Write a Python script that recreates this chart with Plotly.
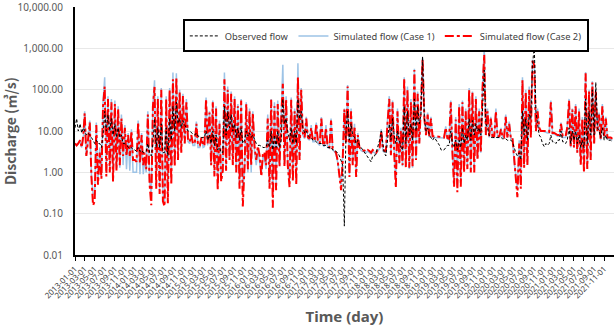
import datetime as dt
import plotly.graph_objects as go

years = list(range(2013, 2022))
days_in_month = [1, 11, 21]

case2_flow = [
    5,4.5,5, 6,4,8, 27,2.5,6, 16,0.8,0.16, 0.2,14,0.5, 3,0.7,40, 120,0.8,60, 1.0,50,0.6, 45,1.1,35, 1.5,20,2.5, 12,2.5,8, 2.5,10,2,
    2,1.8,16, 1.7,8,1.5, 3,1.2,25, 0.5,0.16,40, 117,0.4,60, 0.3,100,0.2, 0.15,60,0.18, 100,0.5,180, 1.4,200,2, 90,3,70, 5,50,6, 5.5,8,5,
    5,15,4.5, 4.5,7,4.5, 4.5,60,5, 28,1.5,50, 0.8,35,0.37, 15,0.6,1.1, 180,1.1,100, 2,80,1.5, 60,1.0,40, 0.4,55,0.15, 1.5,45,1.2, 30,1.5,27,
    4,2,4.3, 2.5,0.8,3, 3,1.5,20, 0.4,57,0.14, 40,0.37,45, 1.4,20,140, 1.4,60,1.5, 0.44,57,0.6, 30,0.5,200, 2,100,9, 7,20,7, 6.5,12,6,
    6,15,5.5, 5,20,5, 4.5,12,4.2, 4,18,3.8, 3.5,3,2, 0.8,0.37,2, 33,5,120, 0.77,30,1.5, 13,0.77,8, 4,3.5,3.4, 3.4,3.2,3.5, 3.3,3.0,3.5,
    3.2,3,3.5, 4,10,3.5, 3.4,3.2,15, 60,2.6,50, 3,0.42,30, 1.7,10,1.5, 190,1.3,100, 1.3,50,1.4, 300,2,80, 5,40,550, 20,8,25, 7.5,20,7.5,
    7.5,7.5,7.3, 7.4,7.2,7, 7,12,6.8, 6.5,50,3, 0.45,19,0.33, 40,0.45,50, 1,30,1.2, 100,1,85, 1.0,60,2, 30,3,100, 700,8,30, 7.5,20,7.5,
    7.5,30,7.5, 7.5,11,7.2, 7,22,7, 15,6.8,7, 2,0.8,0.25, 5,0.4,170, 1.3,90,1.5, 100,7,500, 400,10,30, 12,10,10, 10,10,9.5, 9.5,50,9,
    9,8.5,8, 8,15,7.5, 7.5,7.5,12, 55,4,33, 4,40,3, 30,1.5,20, 1.0,250,1.2, 90,2,150, 5,90,10, 25,6,40, 7.5,20,7, 7,7,6.5,
]

case1_flow = [
    5,4.5,5, 6,4,7, 30,2.5,5, 18,0.9,0.3, 0.3,16,0.6, 4,0.8,50, 200,1.0,70, 1.2,60,0.7, 55,1.2,40, 1.3,25,1.5, 14,1.2,9, 1.1,11,1.0,
    1.0,1.0,18, 0.9,9,0.9, 2,1.0,30, 0.6,0.3,45, 170,0.5,70, 0.4,110,0.3, 0.2,70,0.25, 110,0.7,260, 1.6,250,2.5, 100,3.5,80, 5,60,5.5, 5,8,4.5,
    4.5,17,4, 4,7,4, 4.2,65,4.5, 30,1.6,55, 1.0,40,0.5, 18,0.8,1.2, 260,1.3,120, 2.2,90,1.6, 70,1.1,45, 0.5,60,0.4, 1.2,50,1.0, 35,1.0,30,
    3,1.5,3.5, 1.8,0.9,2.5, 2,1.2,25, 0.5,60,0.3, 50,0.5,55, 1.5,25,400, 1.6,70,1.6, 0.6,65,0.8, 35,0.7,440, 2.5,110,8, 6.5,22,6.5, 6,14,5.5,
    5.5,16,5, 4.5,22,4.5, 4.2,14,4, 3.8,20,3.5, 3.2,2.8,1.8, 1.0,0.5,2.2, 35,5,130, 0.9,35,1.6, 15,0.9,9, 4,3.4,3.2, 3.2,3,3.3, 3.0,2.8,3.2,
    3,2.8,3.3, 3.8,11,3.3, 3.2,3,18, 70,2.8,55, 3.2,0.6,35, 1.6,12,1.4, 200,1.4,120, 1.2,60,1.3, 320,2.2,90, 5,45,600, 22,8,28, 7,22,7,
    7,7,7, 7,7,6.8, 6.8,13,6.5, 6,55,3, 0.6,22,0.5, 45,0.6,55, 1.2,35,1.4, 110,1.2,90, 1.2,70,2.2, 35,3,110, 1000,8,35, 7,22,7,
    7,35,7, 7,12,7, 6.8,25,6.8, 17,6.5,6.5, 1.8,0.9,0.4, 6,0.6,200, 1.4,100,1.6, 120,8,530, 450,11,35, 11,10,10, 9.5,9.5,9, 9,55,8.5,
    8.5,8,7.5, 7.5,16,7, 7,7,13, 60,4,35, 4,45,3, 35,1.6,22, 1.1,270,1.3, 100,2.2,160, 5,100,11, 28,6,45, 7,22,6.5, 6.5,6.5,6,
]

observed_flow = [
    12,20,10, 15,9,12, 10,8,9, 8,7,6, 5,6,5, 5,4,8, 30,10,25, 10,20,8, 15,7,12, 7,8,5, 5,4.5,4, 3.8,4,3.5,
    3.5,3.2,4, 3.2,3.5,3, 3,3.2,5, 3,2.5,5, 20,4,12, 4,15,3, 3,12,2.5, 20,6,40, 10,50,15, 20,12,18, 14,12,10, 10,9,8.5,
    8,9,7.5, 7.5,7,7, 7,10,6, 8,5,10, 4.5,8,3.5, 4,3,3, 40,8,30, 12,25,10, 15,7,12, 6,12,5, 6,10,7.5, 9,7,8,
    6,5,4.5, 4.5,4.3,4, 4,4,6, 4,10,3.5, 8,4,10, 4,6,60, 15,20,10, 6,12,5, 10,5,60, 20,30,12, 9,10,8, 7,7,6,
    6,5.5,5, 5,5,4.5, 4.5,4.5,4, 4,4,3.5, 3.5,3.2,3, 2.5,2,1.5, 0.05,10,30, 6,15,8, 7,5,6, 4.5,4,3.5, 3,2.5,2.2, 2,1.8,2.5,
    2.5,3,4, 6,10,5, 3,2.5,6, 15,6,20, 8,5,10, 6,4,3.5, 40,5,30, 8,15,6, 60,10,40, 15,25,630, 20,10,12, 8,7,6,
    7,6,5, 4.5,3.5,3.4, 3.5,4,4.5, 4.5,10,5, 4,6,3.5, 6,4,12, 5,8,6, 20,6,18, 8,15,10, 12,8,30, 300,15,12, 8,7,7,
    7,7,7, 7,7,6.5, 6.5,6.5,6, 6,6,5.5, 4,3,2.5, 3,2,30, 8,20,6, 25,20,400, 1100,30,15, 8,7,5, 4.2,5,4.5, 5,8,5.5,
    5.5,5,6, 6,10,5.5, 5.5,5,6, 12,5,10, 6,10,5, 8,4,6, 4,60,5, 30,8,100, 8,150,12, 10,7,12, 6,8,6, 6,6,5.5,
]

y_tick_values = [0.01, 0.1, 1, 10, 100, 1000, 10000]
y_tick_labels = ["0.01", "0.10", "1.00", "10.00", "100.00", "1,000.00", "10,000.00"]

dates = [dt.date(y, m, d) for y in years for m in range(1, 13) for d in days_in_month]

fig = go.Figure()
fig.add_trace(go.Scatter(x=dates, y=case1_flow, mode="lines", name="Simulated flow (Case 1)",
                         legendrank=2, line=dict(color="#9dc3e6", width=1.5)))
fig.add_trace(go.Scatter(x=dates, y=case2_flow, mode="lines", name="Simulated flow (Case 2)",
                         legendrank=3, line=dict(color="#ff0000", width=2, dash="dashdot")))
fig.add_trace(go.Scatter(x=dates, y=observed_flow, mode="lines", name="Observed flow",
                         legendrank=1, line=dict(color="#000000", width=1, dash="3px,2px")))

fig.update_layout(
    width=616, height=329,
    margin=dict(l=75, r=2, t=7, b=74),
    paper_bgcolor="white", plot_bgcolor="white",
    font=dict(family="Noto Sans, Open Sans, sans-serif", color="#595959"),
    legend=dict(
        orientation="h", x=0.2, y=0.95, xanchor="left", yanchor="top",
        bordercolor="#000000", borderwidth=2, bgcolor="white",
        font=dict(size=9.3, color="#404040", family="Noto Sans"),
        traceorder="normal", itemwidth=30,
    ),
    showlegend=True,
)

fig.update_yaxes(
    type="log", range=[-2, 4.003], automargin=False,
    tickmode="array", tickvals=y_tick_values, ticktext=y_tick_labels,
    tickfont=dict(size=10, color="#595959", family="Noto Sans"),
    ticklabeloverflow="allow",
    showgrid=True, gridcolor="#e8e8e8", gridwidth=1,
    showline=True, linecolor="#000000", linewidth=2,
    ticks="", ticklabelstandoff=8,
    zeroline=False,
    title=dict(text="<b>Discharge (㎥/s)</b>", font=dict(size=14, color="#595959",
               family="Noto Sans CJK KR, Noto Sans"), standoff=0),
)

fig.update_xaxes(
    type="date", range=["2013-01-01", "2021-12-31"], automargin=False,
    tick0="2013-01-01", dtick="M2", tickformat="%Y-%m-%d",
    tickangle=-45,
    tickfont=dict(size=8, color="#404040", family="Noto Sans"),
    showgrid=False,
    showline=True, linecolor="#000000", linewidth=2,
    ticks="outside", ticklen=4, tickcolor="#000000", tickwidth=1,
    title=dict(text="<b>Time (day)</b>", font=dict(size=15, color="#595959"), standoff=12),
)

fig.write_html("out.html", config={"displayModeBar": False},
               post_script="document.body.style.margin='0';")
